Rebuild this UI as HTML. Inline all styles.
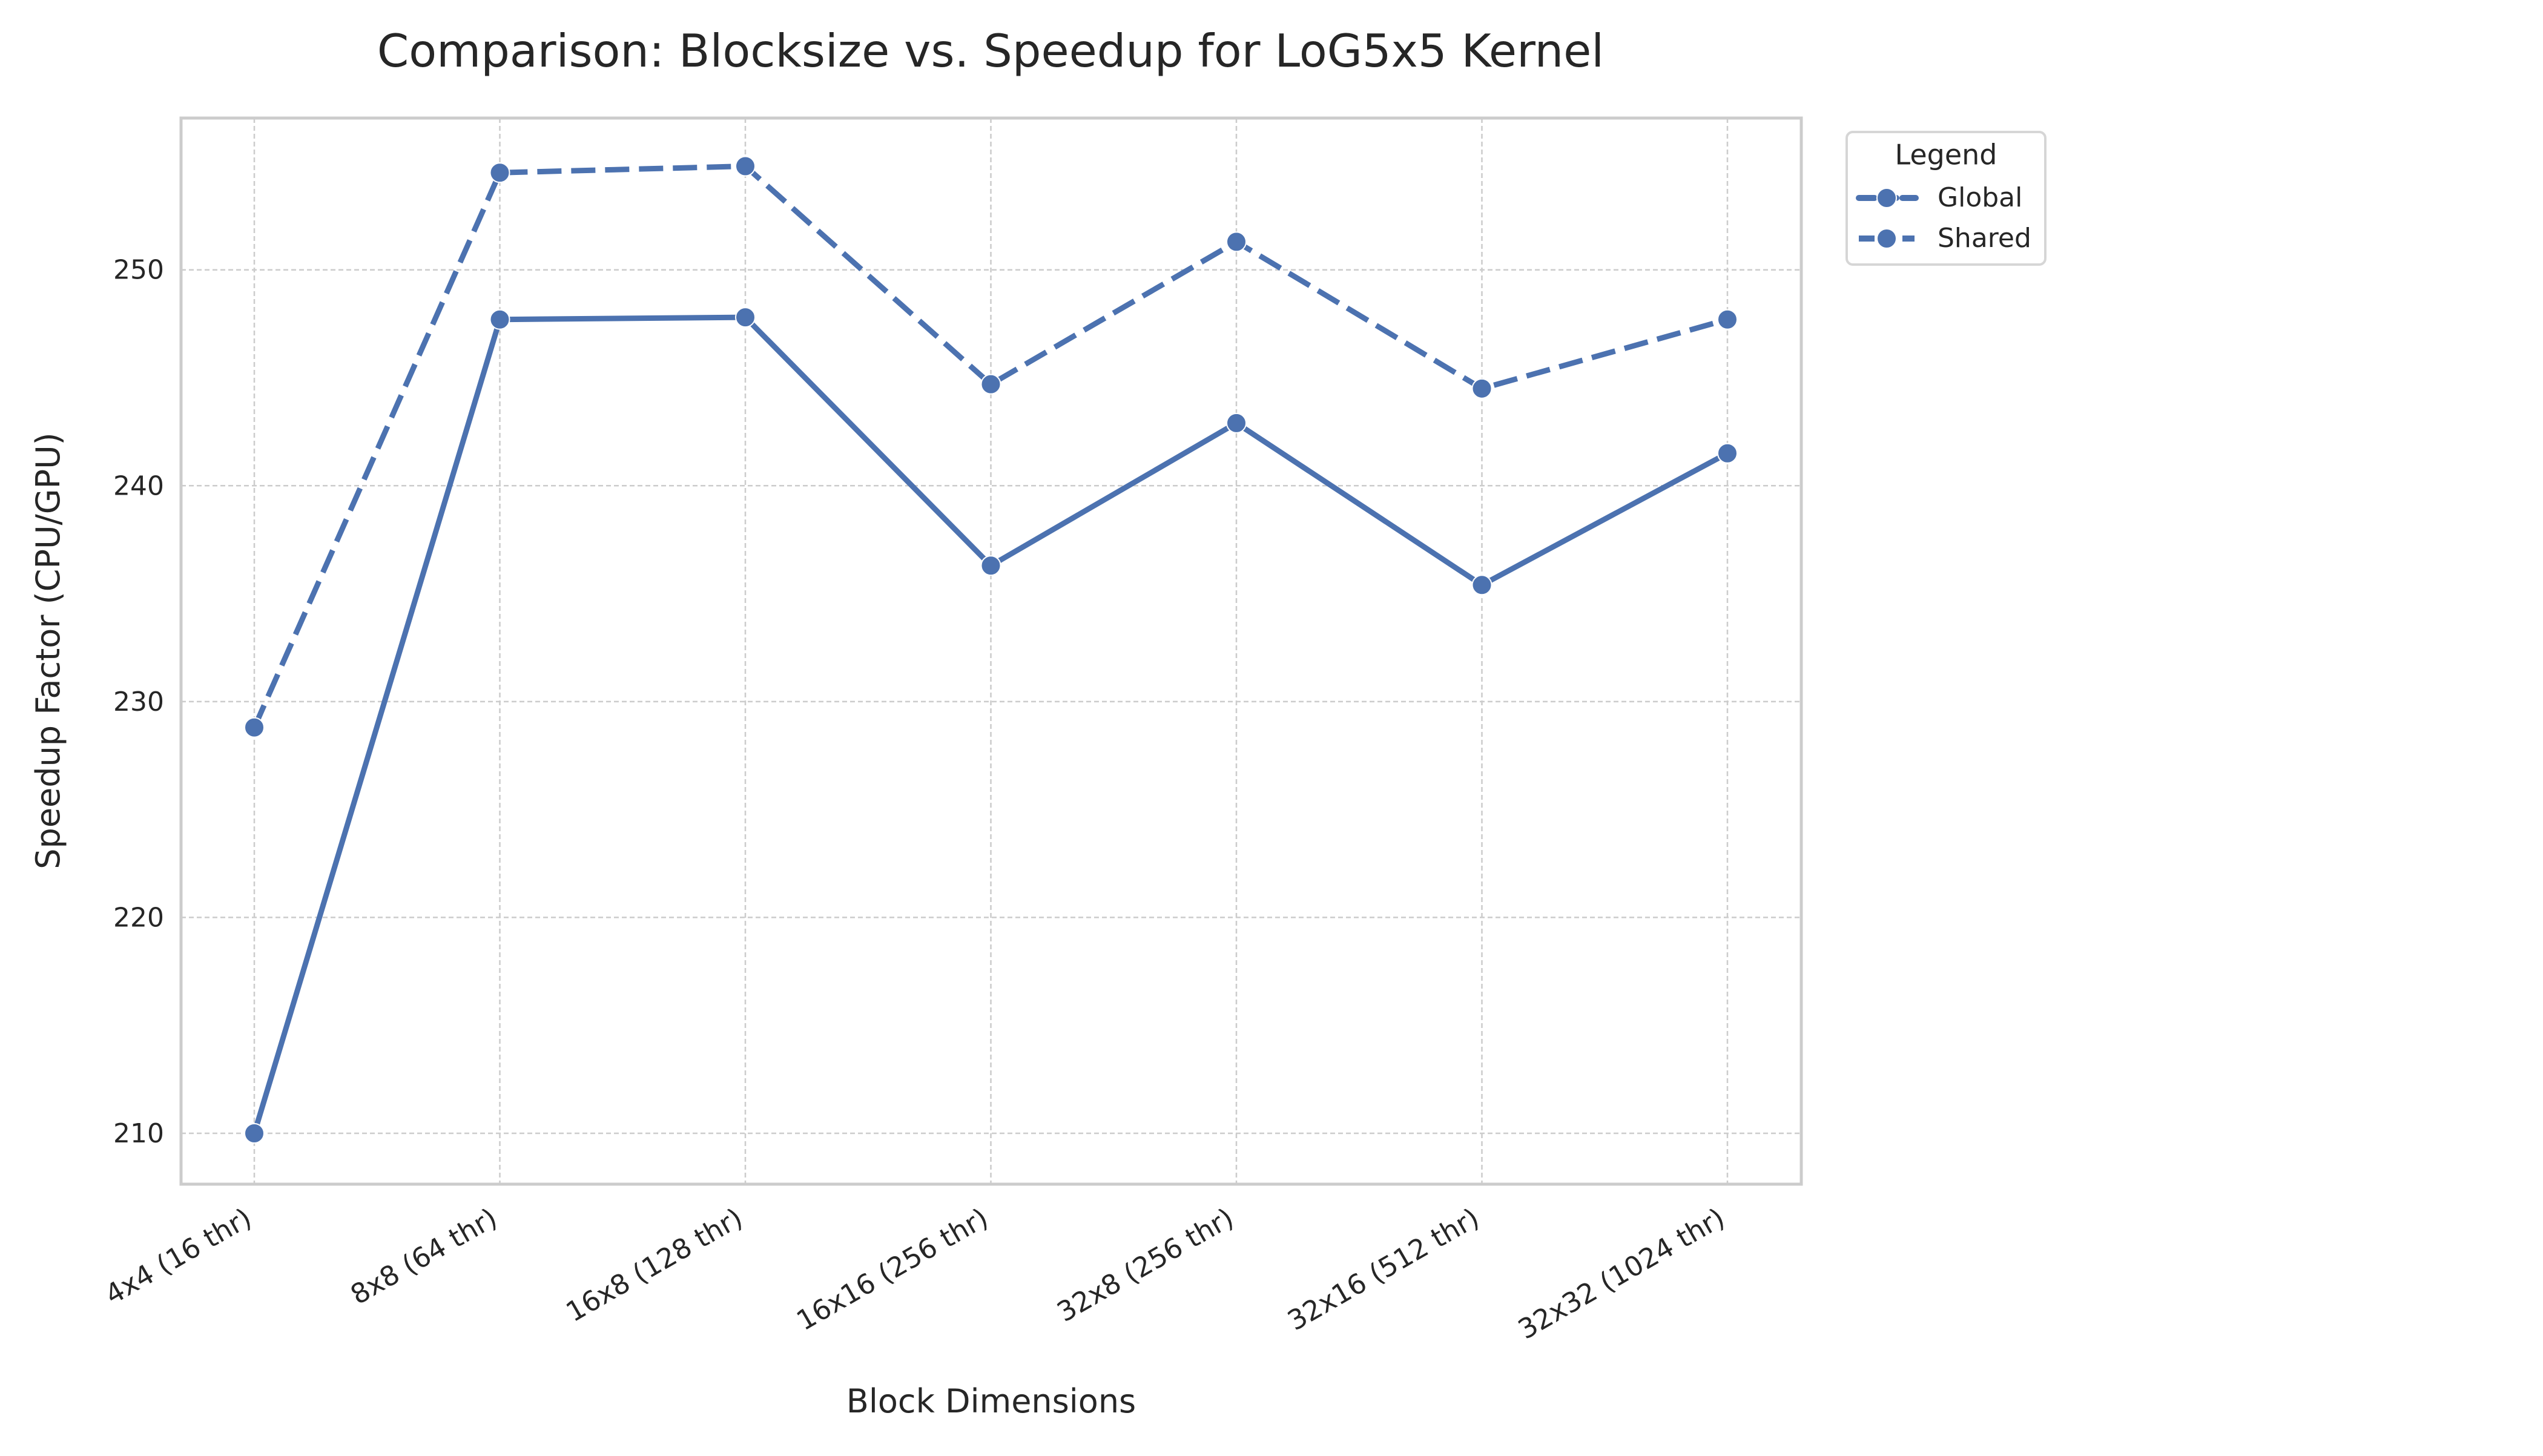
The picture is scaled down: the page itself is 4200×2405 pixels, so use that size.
<!DOCTYPE html>
<html><head><meta charset="utf-8"><style>
html,body{margin:0;padding:0;background:#fff;}
svg text{font-family:"DejaVu Sans","Liberation Sans",sans-serif;fill:#262626;}
</style></head><body>
<svg id="chart" width="4200" height="2400" viewBox="0 0 4200 2400" xmlns="http://www.w3.org/2000/svg">
<rect width="4200" height="2400" fill="#fff"/>
<text x="1636" y="110" font-size="75" text-anchor="middle">Comparison: Blocksize vs. Speedup for LoG5x5 Kernel</text>
<g id="grid"></g>
<g id="axes"></g>
<g id="series"></g>
<text x="1637" y="2333" font-size="54" text-anchor="middle">Block Dimensions</text>
<text transform="translate(98,1075) rotate(-90)" font-size="54" text-anchor="middle">Speedup Factor (CPU/GPU)</text>
<g>
<rect x="3050" y="218" width="328" height="219" rx="10" fill="#fff" stroke="#d6d6d6" stroke-width="4"/>
<text x="3214" y="259" font-size="46" text-anchor="middle" dominant-baseline="middle">Legend</text>
<g>
<line x1="3070" y1="327" x2="3164" y2="327" stroke="#4c72b0" stroke-width="10" stroke-dasharray="26 10" stroke-linecap="round"/>
<circle cx="3116" cy="327" r="16" fill="#4c72b0" stroke="#fff" stroke-width="2"/>
<text x="3200" y="329" font-size="44" dominant-baseline="middle">Global</text>
</g>
<g>
<line x1="3070" y1="394" x2="3162" y2="394" stroke="#4c72b0" stroke-width="10" stroke-dasharray="26 10"/>
<circle cx="3116" cy="394" r="16" fill="#4c72b0" stroke="#fff" stroke-width="2"/>
<text x="3200" y="396" font-size="44" dominant-baseline="middle">Shared</text>
</g>
</g>
</svg>
<script>
const categories = ["4x4 (16 thr)","8x8 (64 thr)","16x8 (128 thr)","16x16 (256 thr)","32x8 (256 thr)","32x16 (512 thr)","32x32 (1024 thr)"];
const globalValues = [210.0, 247.7, 247.8, 236.3, 242.9, 235.4, 241.5];
const sharedValues = [228.8, 254.5, 254.8, 244.7, 251.3, 244.5, 247.7];
const yTicks = [210, 220, 230, 240, 250];

const NS = "http://www.w3.org/2000/svg";
const L = 299, R = 2975, T = 195, B = 1956;
const x0 = 420, x6 = 2853;
function xScale(i){ return x0 + i * (x6 - x0) / (categories.length - 1); }
function yScale(v){ return 1872 + (v - 210) * (445.7 - 1872) / 40; }
function mk(tag, attrs, parent){ const e = document.createElementNS(NS, tag); for (const k in attrs) e.setAttribute(k, attrs[k]); parent.appendChild(e); return e; }

const grid = document.getElementById('grid');
const axes = document.getElementById('axes');
const series = document.getElementById('series');

yTicks.forEach(v => {
  const y = yScale(v);
  const gl = mk('line', {x1:L, x2:R, y1:y, y2:y, stroke:'#cccccc', 'stroke-width':2.5, 'stroke-dasharray':'8 5'}, grid);
  
  
  const t = mk('text', {x:L - 28, y:y + 15, 'font-size':44, 'text-anchor':'end'}, axes);
  t.textContent = v;
  
  
});
categories.forEach((c, i) => {
  const x = xScale(i);
  const gl = mk('line', {x1:x, x2:x, y1:T, y2:B, stroke:'#cccccc', 'stroke-width':2.5, 'stroke-dasharray':'8 5'}, grid);
  
  
  const t = mk('text', {transform:`translate(${x - 18},${B + 36}) rotate(-30)`, 'font-size':45, 'text-anchor':'end', 'dominant-baseline':'hanging'}, axes);
  t.textContent = c;
  
  
});
const frame = mk('rect', {x:L, y:T, width:R - L, height:B - T, fill:'none', stroke:'#cccccc', 'stroke-width':5}, axes);



function drawSeries(vals, name, dash){
  const pts = vals.map((v, i) => xScale(i) + ',' + yScale(v)).join(' ');
  const pl = mk('polyline', {points:pts, fill:'none', stroke:'#4c72b0', 'stroke-width':9, 'stroke-linejoin':'round'}, series);
  if (dash) pl.setAttribute('stroke-dasharray', '40 16');
  
  
  vals.forEach((v, i) => {
    const c = mk('circle', {cx:xScale(i), cy:yScale(v), r:16, fill:'#4c72b0', stroke:'#fff', 'stroke-width':2}, series);
    
    
  });
}
drawSeries(globalValues, 'global', false);
drawSeries(sharedValues, 'shared', true);
</script>
</body></html>
